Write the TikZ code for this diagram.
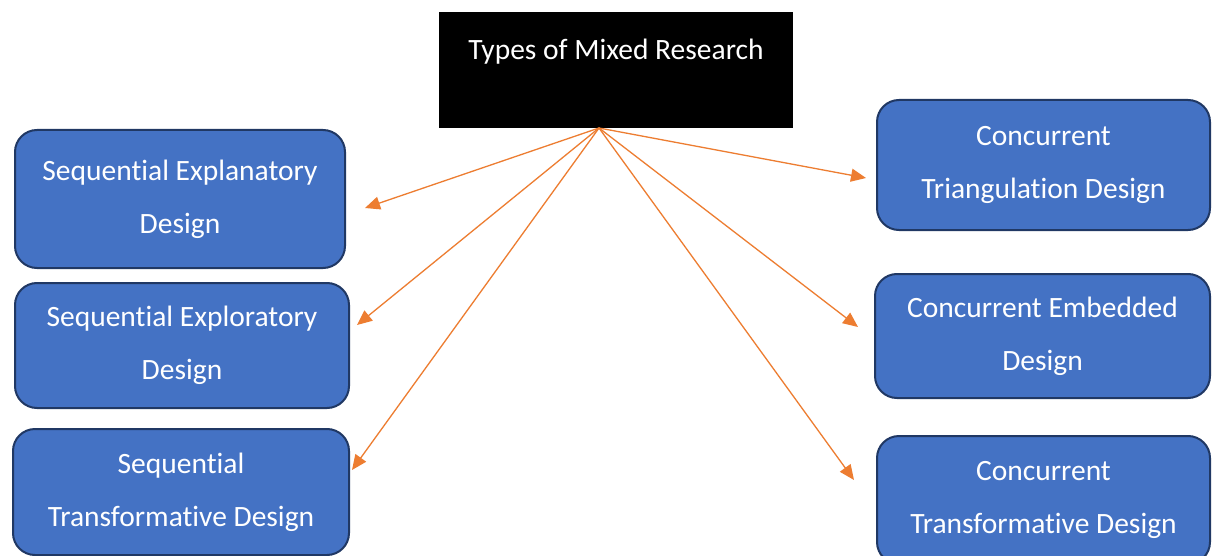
\documentclass[tikz,border=0pt]{standalone}
\usepackage{fontspec}
\setmainfont{Carlito}[Ligatures=NoCommon]
\usetikzlibrary{arrows.meta}
\definecolor{boxfill}{HTML}{4472C4}
\definecolor{boxline}{HTML}{203864}
\definecolor{arrowc}{HTML}{ED7D31}
\begin{document}
\begin{tikzpicture}[x=1pt,y=-1pt,
  dbox/.style={draw=boxline, fill=boxfill, line width=2pt, rounded corners=22pt,
    text=white, align=center, font=\fontsize{29.5}{53}\selectfont, inner sep=0pt},
  conn/.style={draw=arrowc, line width=1.3pt, -{Triangle[length=15pt,width=13pt]}}]
\clip (0,0) rectangle (1212,556);
\fill[white] (0,0) rectangle (1212,556);
% title
\node[fill=black, minimum width=354pt, minimum height=116pt, inner sep=0pt] (title) at (616,70) {};
\node[text=white, font=\fontsize{29.5}{34}\selectfont, inner sep=0pt] (titletext) at (616,52) {Types of Mixed Research};
% left boxes
\node[dbox, minimum width=330pt, minimum height=138pt] (l1) at (180,199) {Sequential Explanatory\\Design};
\node[dbox, minimum width=334pt, minimum height=125pt] (l2) at (182,345.5) {Sequential Exploratory\\Design};
\node[dbox, minimum width=336pt, minimum height=126pt] (l3) at (181,492) {Sequential\\Transformative Design};
% right boxes
\node[dbox, minimum width=333pt, minimum height=130pt] (r1) at (1043.5,165) {Concurrent\\Triangulation Design};
\node[dbox, minimum width=335pt, minimum height=124pt] (r2) at (1042.5,336) {Concurrent Embedded\\Design};
\node[dbox, minimum width=333pt, minimum height=128pt] (r3) at (1043.5,500) {Concurrent\\Transformative Design};
% connectors
\coordinate (hub) at (599,128);
\coordinate (tl1) at (365,208);
\coordinate (tl2) at (357,325);
\coordinate (tl3) at (352,470);
\coordinate (tr1) at (866,178);
\coordinate (tr2) at (858,327);
\coordinate (tr3) at (854,480);
\foreach \t in {tl1,tl2,tl3,tr1,tr2,tr3} \draw[conn] (hub) -- (\t);
\end{tikzpicture}
\end{document}
